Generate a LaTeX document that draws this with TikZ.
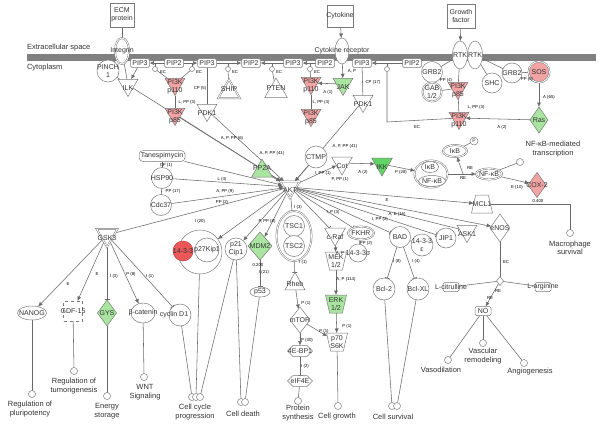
\documentclass[tikz,border=0pt]{standalone}
\usepackage{fontspec}
\setmainfont{Liberation Sans}
\usetikzlibrary{shapes.geometric,shapes.symbols,shapes.misc,arrows.meta,backgrounds}
\definecolor{ol}{HTML}{7A7A7A}
\definecolor{ln}{HTML}{6A6A6A}
\definecolor{tx}{HTML}{333333}
\definecolor{pk}{HTML}{F2A4A4}
\definecolor{rd}{HTML}{EC5858}
\definecolor{gr}{HTML}{A9E5A0}
\definecolor{gb}{HTML}{62D466}
\definecolor{mem}{HTML}{808080}
\begin{document}
\begin{tikzpicture}[x=1pt,y=-1pt,
 every node/.style={font=\fontsize{7}{8}\selectfont, text=tx, inner sep=0pt, outer sep=0pt},
 base/.style={draw=ol, line width=0.5pt, fill=white},
 lbl/.style={label={[align=center]center:#1}},
 circ/.style={base, circle, minimum size=#1},
 dbl/.style={double=white, double distance=0.8pt},
 kin/.style 2 args={base, regular polygon, regular polygon sides=3, shape border rotate=180, minimum size=#1, label={[align=center, yshift=-#1/8]center:#2}},
 phos/.style 2 args={base, regular polygon, regular polygon sides=3, minimum size=#1, label={[align=center, yshift=#1/8]center:#2}},
 enz/.style 2 args={base, diamond, minimum width=#1, minimum height=#2},
 ell/.style 2 args={base, ellipse, minimum width=#1, minimum height=#2},
 bx/.style 2 args={base, rectangle, minimum width=#1, minimum height=#2},
 chem/.style={base, rectangle, rounded corners=1.5pt, minimum width=19, minimum height=9},
 trapz/.style={base, trapezium, inner sep=1pt, trapezium stretches=true, minimum width=21, minimum height=18, trapezium left angle=72, trapezium right angle=72},
 itrap/.style={trapz, shape border rotate=180},
 hexs/.style={base, signal, inner sep=1pt, signal to=west and east, minimum width=25, minimum height=11},
 fnc/.style={base, circle, minimum size=7},
 ftx/.style={align=center, font=\fontsize{7.5}{8.5}\selectfont},
 lab/.style={font=\fontsize{4.3}{5}\selectfont, text=black},
 ed/.style={draw=ln, line width=0.55pt},
 ar/.style={ed, -{Latex[length=4.5pt,width=4pt]}},
 ih/.style={ed, -{Bar[width=5pt,line width=0.7pt]}}
]
\useasboundingbox (0,0) rectangle (601,431);

% ---------- membrane and compartments ----------
\node[anchor=west, font=\fontsize{7.5}{8}\selectfont] (ecs) at (27,48) {Extracellular space};
\node[anchor=west, font=\fontsize{7.5}{8}\selectfont] (cyt) at (27,68) {Cytoplasm};

% ---------- top row ----------
\node[bx={24}{24}, lbl={ECM\\protein}] (ecm) at (122,15) {};
\node[ell={14}{26}, dbl, lbl={Integrin}] (integ) at (122,51) {};
\node[circ=22, lbl={PINCH\\1}] (pinch) at (108,71) {};
\node[chem, lbl={PIP3}] (pip3a) at (140,63) {};
\node[kin={23}{ILK}] (ilk) at (128,85) {};
\node[chem, lbl={PIP2}] (pip2a) at (174,63) {};
\node[chem, lbl={PIP3}] (pip3b) at (207,63) {};
\node[chem, lbl={PIP2}] (pip2b) at (251,63) {};
\node[chem, lbl={PIP3}] (pip3c) at (293,63) {};
\node[chem, lbl={PIP2}] (pip2c) at (325,63) {};
\node[chem, lbl={PIP3}] (pip3d) at (362,63) {};
\node[chem, lbl={PIP2}] (pip2d) at (412,63) {};

\foreach \n/\x in {c1/155,c2/192,c3/228,c4/272,c5/310,c6/387}{
  \node[base, circle, minimum size=5] (\n) at (\x,69) {};
  \coordinate (\n t) at (\x,63.5);
}
\coordinate (c6b) at (387,122);

\node[kin={23}{PI3K\\p110}, fill=pk] (pk1) at (175,84) {};
\node[kin={23}{PI3K\\p85}, fill=pk] (pk2) at (175,114) {};
\node[phos={25}{SHIP}, dbl] (ship) at (229,92) {};
\node[phos={26}{PTEN}] (pten) at (276,91) {};
\node[kin={23}{PDK1}] (pdk1a) at (207,110) {};

\node[bx={26}{22}, lbl={Cytokine}] (cyto) at (340,16) {};
\node[ell={14}{26}, lbl={Cytokine receptor}] (ckr) at (342,51) {};
\node[kin={23}{JAK}, fill=gr] (jak) at (343,84) {};
\node[kin={23}{PI3K\\p110}, fill=pk] (pk3) at (311,83) {};
\node[kin={23}{PI3K\\p85}, fill=pk] (pk4) at (311,115) {};
\node[kin={23}{PDK1}] (pdk1b) at (363,101) {};

\node[bx={28}{24}, lbl={Growth\\factor}] (gf) at (461,16) {};
\node[ell={15}{28}, lbl={RTK}] (rtk1) at (460,55) {};
\node[ell={15}{28}, lbl={RTK}] (rtk2) at (475,55) {};
\node[circ=21, lbl={GRB2}] (grb2a) at (432,72) {};
\node[circ=19, dbl, lbl={GAB\\1/2}] (gab) at (432,92) {};
\node[kin={23}{PI3K\\p85}, fill=pk] (pk6) at (458,88) {};
\node[kin={23}{PI3K\\p110}, fill=pk] (pk5) at (459,118) {};
\node[circ=20, lbl={SHC}] (shc) at (492,83) {};
\node[circ=20, lbl={GRB2}] (grb2b) at (512,73) {};
\node[circ=21, dbl, fill=pk, lbl={SOS}] (sos) at (539,72) {};
\node[enz={18}{26}, fill=gr, lbl={Ras}] (ras) at (539,120) {};

% ---------- middle ----------
\node[base, rectangle, rounded corners=4pt, minimum width=46, minimum height=11, lbl={Tanespimycin}] (tanes) at (162,156) {};
\node[circ=21, lbl={HSP90}] (hsp) at (162,178) {};
\node[circ=21, lbl={Cdc37}] (cdc) at (161,205) {};
\node[phos={24}{PP2A}, fill=gr] (pp2a) at (262,171) {};
\node[circ=22, lbl={CTMP}] (ctmp) at (316,157) {};
\node[kin={24}{Cot}] (cot) at (342,163) {};
\node[kin={24}{IKK}, fill=gb] (ikk) at (382,164) {};
\node[ell={33}{27}, dbl] (ikbc) at (431,174) {};
\node[ell={17}{11}, lbl={IκB}] (ikb1) at (430,167) {};
\node[ell={27}{11}, lbl={NF-κB}] (nfkb1) at (432,181) {};
\node[ell={24}{12}, dbl, lbl={IκB}] (ikb2) at (455,151) {};
\node[circ=8, label={[font=\fontsize{5}{5}\selectfont]center:P}] (phos1) at (474,141) {};
\coordinate (spl) at (463,174);
\node[ell={26}{11}, dbl, lbl={NF-κB}] (nfkb2) at (489,174) {};
\node[fnc] (fnf) at (520,162) {};
\node[ftx] (tnf) at (553,149) {NF-κB-mediated\\transcription};
\node[enz={18}{25}, fill=pk, lbl={COX-2}] (cox) at (537,185) {};
\node[trapz, lbl={MCL1}] (mcl) at (482,204) {};
\coordinate (mcr) at (570,204);
\node[fnc] (fnm) at (570,233) {};
\node[ftx] (tmac) at (570,248) {Macrophage\\survival};
\node[enz={20}{28}, lbl={eNOS}] (enos) at (500,228) {};
\node[kin={23}{ASK1}] (ask) at (467,231) {};
\node[circ=20, lbl={JIP1}] (jip) at (446,238) {};
\node[circ=21, lbl={BAD}] (bad) at (400,237) {};
\node[circ=22, lbl={14-3-3\\ε}] (e1433) at (422,245) {};
\node[circ=22, lbl={Bcl-2}] (bcl2) at (384,289) {};
\node[circ=22, lbl={Bcl-XL}] (bclx) at (418,289) {};
\node[kin={24}{c-Raf}] (craf) at (335,234) {};
\node[ell={26}{13}, dbl, lbl={FKHR}] (fkhr) at (361,233) {};
\node[circ=18, lbl={14-3-3σ}] (s1433) at (358,253) {};
\node[itrap, lbl={MEK\\1/2}] (mek) at (336,261) {};
\node[itrap, fill=gr, lbl={ERK\\1/2}] (erk) at (336,304) {};
\node[itrap, lbl={p70\\S6K}] (p70) at (337,342) {};
\node[fnc] (fng) at (338,406) {};
\node[ftx] (tcg) at (337,417) {Cell growth};

\node[ell={35}{50}, dbl] (tsc) at (294,236) {};
\node[circ=21, lbl={TSC1}] (tsc1) at (294,226) {};
\node[circ=21, lbl={TSC2}] (tsc2) at (294,246) {};
\node[base, regular polygon, regular polygon sides=3, minimum size=23, lbl={Rheb}] (rheb) at (295,284) {};
\node[enz={20}{26}, lbl={mTOR}] (mtor) at (300,320) {};
\node[hexs, lbl={4E-BP1}] (ebp) at (300,351) {};
\node[hexs, lbl={eIF4E}] (eif) at (300,381) {};
\node[fnc] (fnp) at (298,401) {};
\node[ftx] (tps) at (298,413) {Protein\\synthesis};

\node[kin={22}{AKT}, dbl] (akt) at (290,187) {};

\node[circ=44] (cpx) at (200,252) {};
\node[circ=24, lbl={p27Kip1}] (p27) at (207,250) {};
\node[circ=20, fill=rd, draw=rd!80!black, lbl={14-3-3}] (s14) at (183,251) {};
\node[circ=22, lbl={p21\\Cip1}] (p21) at (236,249) {};
\node[enz={24}{28}, fill=gr, lbl={MDM2}] (mdm2) at (260,246) {};
\node[ell={20}{10}, lbl={p53}] (p53) at (260,292) {};

\node[fnc] (fcc1) at (192,397) {};
\node[fnc] (fcc2) at (196,397) {};
\node[fnc] (fcc3) at (200,397) {};
\node[ftx] (tcc) at (195,412) {Cell cycle\\progression};
\node[fnc] (fcd1) at (241,402) {};
\node[fnc] (fcd2) at (245,402) {};
\node[ftx] (tcd) at (243,414) {Cell death};

\node[kin={24}{GSK3}, dbl] (gsk) at (107,235) {};
\node[ell={29}{14}, lbl={NANOG}] (nanog) at (32,313) {};
\node[bx={19}{20}, dashed, lbl={GDF-15}] (gdf) at (73,311) {};
\node[enz={19}{26}, fill=gr, lbl={GYS}] (gys) at (107,313) {};
\node[ell={24}{20}, lbl={β-catenin}] (bcat) at (143,313) {};
\node[circ=22, label={[xshift=-6pt]center:cyclin D1}] (cyc) at (180,315) {};

\node[fnc] (fpl) at (32,394) {};
\node[ftx] (tpl) at (30,409) {Regulation of\\pluripotency};
\node[fnc] (ftu) at (74,371) {};
\node[ftx] (ttu) at (74,386) {Regulation of\\tumorigenesis};
\node[fnc] (fen) at (107,396) {};
\node[ftx] (ten) at (107,411) {Energy\\storage};
\node[fnc] (fwn) at (144,377) {};
\node[ftx] (twn) at (145,392) {WNT\\Signaling};

\node[enz={7}{9}] (rx) at (500,281) {};
\node[chem, minimum width=16, lbl={L-citrulline}] (lcit) at (451,287) {};
\node[chem, minimum width=16, lbl={L-arginine}] (larg) at (543,287) {};
\node[chem, minimum width=16, lbl={NO}] (no) at (483,311) {};
\node[fnc] (fva) at (448,360) {};
\node[ftx] (tva) at (441,370) {Vasodilation};
\node[fnc] (fvr) at (483,343) {};
\node[ftx] (tvr) at (483,356) {Vascular\\remodeling};
\node[fnc] (fan) at (524,363) {};
\node[ftx] (tan) at (530,372) {Angiogenesis};
\node[fnc] (fcs1) at (392,406) {};
\node[fnc] (fcs2) at (397,406) {};
\node[ftx] (tcs) at (393,417) {Cell survival};

% ---------- edge labels ----------
\foreach \nm/\x/\y/\t in {
 e1/163/72/EC, e2/199/72/EC, e3/235/72/EC, e4/279/72/EC, e5/317/72/EC, e6/417/127/EC,
 e7/187/102/{L, PP (3)}, e8/321/102/{L, PP (3)}, e9/476/107/{L, PP (3)},
 e10/200/88/{CP (5)}, e11/373/82/{CP (17)}, e12/352/71/{A, P}, e13/328/92/{A (1)},
 e14/446/80/{PP (4)}, e15/527/79/{PP (6)}, e16/549/97/{A (65)}, e17/502/127/{A (2)},
 e18/232/138/{A, P, PP (6)}, e19/272/153/{A, P, PP (41)}, e20/345/146/{A, P, PP (41)},
 e21/166/165/{CP (1)}, e22/173/191/{PP (17)}, e23/222/179/{L (4)}, e24/225/191/{A, PP (9)},
 e25/222/202/{PP (2)}, e26/200/221/{I (20)}, e27/323/173/{I, PP (1)}, e28/340/179/{P, PP (1)},
 e29/363/172/{A (2)}, e30/401/172/{P (28)}, e31/470/168/RE, e32/463/178/RE,
 e33/517/187/{E (10)}, e34/387/200/E, e35/397/214/{A, E (16)}, e36/538/201/{0.400},
 e37/267/221/{P, PP (8)}, e38/258/265/{0.200}, e39/264/272/{I (21)}, e61/298/207/{I (3)},
 e40/333/212/{I, P (3)}, e41/380/219/{I, PP (2)}, e42/366/243/{PP (2)}, e43/340/253/{A, P},
 e44/346/279/{A, P (114)}, e45/347/326/{P (1)}, e46/324/331/{P (1)},
 e47/397/261/{I (8)}, e48/416/261/{I (4)}, e49/303/262/{I (1)}, e50/306/303/{P (1)},
 e51/307/340/{P (30)}, e52/305/366/{I (2)}, e53/506/262/EC, e54/490/298/RE, e55/498/291/RE,
 e56/68/284/E, e57/97/274/E, e58/114/276/{I (3)}, e59/131/274/{P (8)}, e60/150/276/{I (1)}}{
 \node[lab] (\nm) at (\x,\y) {\t};
}

% ---------- connectors (background) ----------
\begin{scope}[on background layer]
\fill[white] (0,0) rectangle (601,431);
\fill[mem] (27,54) rectangle (596,61);
\draw[ed] (ecm) -- (integ);
\draw[ed] (integ) -- (pinch);
\draw[ed] (integ) -- (ilk);
\draw[ed] (pinch) -- (ilk);
\draw[ar] (pip3a) -- (ilk);
\draw[ar] (pip2a) -- (pip3a);
\draw[ar] (pip2a) -- (pip3b);
\draw[ar] (pip3b) -- (pip2b);
\draw[ar] (pip3c) -- (pip2b);
\draw[ar] (pip2c) -- (pip3c);
\draw[ar] (pip2d) -- (pip3d);
\foreach \n in {c1,c2,c3,c4,c5,c6}{\draw[ed] (\n) -- (\n t);}
\draw[ed] (c1) -- (pk1);
\draw[ed] (c2) -- (pk1);
\draw[ed] (c3) -- (ship);
\draw[ed] (c4) -- (pten);
\draw[ed] (c5) -- (pk3);
\draw[ed] (c6) -- (c6b) -- (pk5);
\draw[ed] (pk1) -- (pk2);
\draw[ed] (pk3) -- (pk4);
\draw[ed] (pk6) -- (pk5);
\draw[ed] (pip3b) -- (pdk1a);
\draw[ed] (pip3d) -- (pdk1b);
\draw[ar] (cyto) -- (ckr);
\draw[ar] (ckr) -- (jak);
\draw[ar] (jak) -- (pk3);
\draw[ar] (gf) -- (rtk1);
\draw[ed] (rtk1) -- (grb2a);
\draw[ed] (grb2a) -- (gab);
\draw[ed] (gab) -- (pk6);
\draw[ed] (rtk1) -- (pk6);
\draw[ed] (rtk2) -- (shc);
\draw[ed] (rtk2) -- (grb2b);
\draw[ed] (grb2b) -- (sos);
\draw[ar] (sos) -- (ras);
\draw[ar] (ras) -- (pk5);

\draw[ar] (ilk) -- (akt);
\draw[ar] (pk2) -- (akt);
\draw[ar] (pdk1a) -- (akt);
\draw[ar] (pdk1b) -- (akt);
\draw[ar] (pp2a) -- (akt);
\draw[ar] (ctmp) -- (akt);
\draw[ar] (tanes) -- (akt);
\draw[ar] (hsp) -- (akt);
\draw[ar] (cdc) -- (akt);
\draw[ed] (tanes) -- (hsp);
\draw[ed] (hsp) -- (cdc);
\draw[ar] (akt) -- (cot);
\draw[ar] (cot) -- (ikk);
\draw[ar] (ikk) -- (ikbc);
\draw[ar] (ikbc) -- (nfkb2);
\draw[ar] (spl) -- (ikb2);
\draw[ed] (ikb2) -- (phos1);
\draw[ed] (nfkb2) -- (fnf);
\draw[ar] (nfkb2) -- (cox);
\draw[ar] (akt) -- (mcl);
\draw[ed] (mcl) -- (mcr) -- (fnm);
\draw[ar] (akt) -- (enos);
\draw[ih] (akt) -- (ask);
\draw[ih] (akt) -- (jip);
\draw[ih] (akt) -- (bad);
\draw[ih] (akt) -- (fkhr);
\draw[ih] (akt) -- (craf);
\draw[ih] (akt) -- (tsc);
\draw[ar] (akt) -- (mdm2);
\draw[ar] (akt) -- (p21);
\draw[ar] (akt) -- (cpx);
\draw[ed] (akt) -- (gsk);
\draw[ed] (bad) -- (e1433);
\draw[ih] (bad) -- (bcl2);
\draw[ih] (bad) -- (bclx);
\draw[ed] (bcl2) -- (fcs1);
\draw[ed] (bclx) -- (fcs2);
\draw[ed] (fkhr) -- (s1433);
\draw[ar] (craf) -- (mek);
\draw[ar] (mek) -- (erk);
\draw[ar] (erk) -- (p70);
\draw[ed] (p70) -- (fng);
\draw[ih] (tsc) -- (rheb);
\draw[ar] (rheb) -- (mtor);
\draw[ar] (mtor) -- (ebp);
\draw[ih] (ebp) -- (eif);
\draw[ed] (eif) -- (fnp);
\draw[ar] (mtor) -- (p70);
\draw[ih] (mdm2) -- (p53);
\draw[ed] (cpx) -- (fcc2);
\draw[ed] (cyc) -- (fcc1);
\draw[ed] (p21) -- (fcc3);
\draw[ed] (p21) -- (fcd1);
\draw[ed] (p53) -- (fcd2);
\draw[ar] (gsk) -- (nanog);
\draw[ar] (gsk) -- (gdf);
\draw[ih] (gsk) -- (gys);
\draw[ar] (gsk) -- (bcat);
\draw[ih] (gsk) -- (cyc);
\draw[ed] (nanog) -- (fpl);
\draw[ed] (gdf) -- (ftu);
\draw[ed] (gys) -- (fen);
\draw[ed] (bcat) -- (fwn);
\draw[ed] (enos) -- (rx);
\draw[ed] (larg) -- (rx);
\draw[ed] (rx) -- (lcit);
\draw[ar] (rx) -- (no);
\draw[ed] (no) -- (fva);
\draw[ed] (no) -- (fvr);
\draw[ed] (no) -- (fan);
\end{scope}
\end{tikzpicture}
\end{document}
